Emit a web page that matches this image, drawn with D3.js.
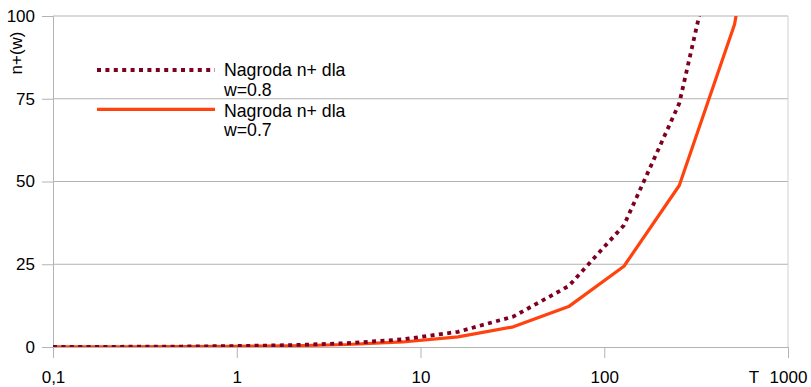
<!DOCTYPE html>
<html>
<head>
<meta charset="utf-8">
<script src="https://cdn.jsdelivr.net/npm/d3@7"></script>
<style>
  body { margin: 0; background: #fff; }
  text { font-family: 'Liberation Sans', Arial, sans-serif; fill: #000; }
</style>
</head>
<body>
<svg width="811" height="387"></svg>
<script>
// data
const tValues = [0.1, 0.25, 0.5, 1, 2, 4, 8, 16, 32, 64, 128, 256, 512, 1024];
const reward08 = [0.03, 0.07, 0.14, 0.29, 0.57, 1.15, 2.3, 4.6, 9.2, 18.4, 36.8, 73.6, 147, 294];
const reward07 = [0.02, 0.05, 0.1, 0.19, 0.38, 0.76, 1.52, 3.04, 6.1, 12.2, 24.4, 48.8, 97.5, 195];
const xTicks = [0.1, 1, 10, 100, 1000];
const xTickLabels = ['0,1', '1', '10', '100', '1000'];
const yTicks = [0, 25, 50, 75, 100];
const seriesNames = ['Nagroda n+ dla w=0.8', 'Nagroda n+ dla w=0.7'];

const svg = d3.select('svg');
const margin = { top: 16, left: 53, right: 23, bottom: 40 };
const width = +svg.attr('width');
const height = +svg.attr('height');
const innerWidth = width - margin.left - margin.right;
const innerHeight = height - margin.top - margin.bottom;

const xScale = d3.scaleLog().domain([0.1, 1000]).range([0, innerWidth]);
const yScale = d3.scaleLinear().domain([0, 100]).range([innerHeight, 0]);

const g = svg.append('g')
  .attr('transform', `translate(${margin.left}, ${margin.top})`);

svg.append('defs').append('clipPath').attr('id', 'plot-clip')
  .append('rect').attr('width', innerWidth).attr('height', innerHeight);

// horizontal grid + y axis
const yAxis = d3.axisLeft(yScale).tickValues(yTicks).tickSize(11).tickPadding(7);
const yAxisG = g.append('g').call(yAxis);
yAxisG.select('.domain').attr('stroke', '#b3b3b3');
yAxisG.selectAll('.tick line').attr('stroke', '#b3b3b3');
yAxisG.selectAll('.tick text').style('font-size', '17px');

g.append('g').selectAll('line')
  .data(yTicks.filter(d => d > 0))
  .join('line')
  .attr('x1', 0).attr('x2', innerWidth)
  .attr('y1', d => yScale(d)).attr('y2', d => yScale(d))
  .attr('stroke', '#b3b3b3');

// right frame line
g.append('line')
  .attr('x1', innerWidth).attr('x2', innerWidth)
  .attr('y1', 0).attr('y2', innerHeight)
  .attr('stroke', '#d0d0d0');

// x axis
const xAxis = d3.axisBottom(xScale)
  .tickValues(xTicks)
  .tickFormat((d, i) => xTickLabels[i])
  .tickSize(11).tickPadding(12.7);
const xAxisG = g.append('g')
  .attr('transform', `translate(0, ${innerHeight})`)
  .call(xAxis);
xAxisG.select('.domain').attr('stroke', '#b3b3b3');
xAxisG.selectAll('.tick line').attr('stroke', '#b3b3b3');
xAxisG.selectAll('.tick text').style('font-size', '17px');

xAxisG.append('text')
  .attr('x', xScale(1000) - 34)
  .attr('y', 36)
  .style('font-size', '17px')
  .style('text-anchor', 'middle')
  .text('T');

// y axis title
g.append('text')
  .attr('transform', `translate(-31, 37) rotate(-90)`)
  .style('font-size', '17px')
  .style('text-anchor', 'middle')
  .text('n+(w)');

// lines
const line = d3.line()
  .x((d, i) => xScale(tValues[i]))
  .y(d => yScale(d));

const plot = g.append('g').attr('clip-path', 'url(#plot-clip)');

plot.append('path')
  .datum(reward07)
  .attr('d', line)
  .attr('fill', 'none')
  .attr('stroke', '#ff420e')
  .attr('stroke-width', 3.2)
  .attr('stroke-linejoin', 'round');

plot.append('path')
  .datum(reward08)
  .attr('d', line)
  .attr('fill', 'none')
  .attr('stroke', '#7e0021')
  .attr('stroke-width', 3.8)
  .attr('stroke-dasharray', '4 4.4');

// legend
const legend = svg.append('g');
const legendItems = [
  { name: seriesNames[0], color: '#7e0021', dash: '4 4.4', width: 3.8, y: 70, ty: 76 },
  { name: seriesNames[1], color: '#ff420e', dash: null, width: 3.2, y: 109.3, ty: 116.5 }
];
legendItems.forEach(item => {
  legend.append('line')
    .attr('x1', 97).attr('x2', 215)
    .attr('y1', item.y).attr('y2', item.y)
    .attr('stroke', item.color)
    .attr('stroke-width', item.width)
    .attr('stroke-dasharray', item.dash);
  const words = item.name.split(' w=');
  const t = legend.append('text')
    .attr('x', 224)
    .attr('y', item.ty)
    .style('font-size', '17.7px');
  t.append('tspan').text(words[0]);
  t.append('tspan').attr('x', 224).attr('dy', 19.5).text('w=' + words[1]);
});
</script>
</body>
</html>
